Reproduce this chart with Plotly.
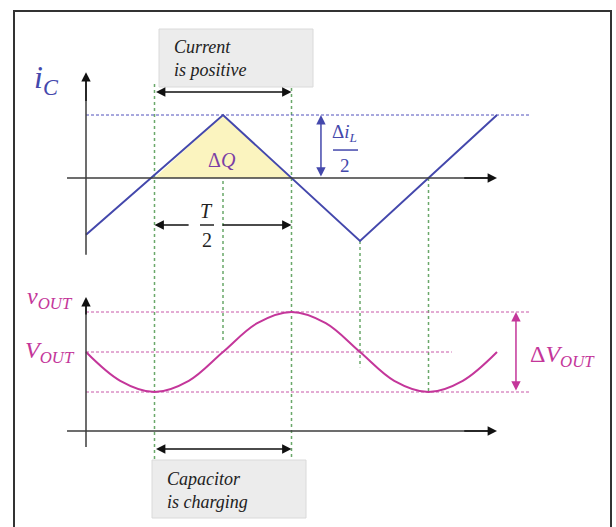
import plotly.graph_objects as go

# Capacitor current i_C (time in quarter periods T/4, current in units of Δi_L/2)
t_ic = [0, 2, 4, 6]
i_c = [-0.9, 1.0, -1.0, 1.0]

# Charge ΔQ delivered while i_C is positive
t_dq = [1, 2, 3]
i_dq = [0, 1, 0]

# Output voltage ripple about V_OUT (units of ΔV_OUT/2)
t_v = [0, 0.5, 1, 1.5, 2, 2.5, 3, 3.5, 4, 4.5, 5, 5.5, 6]
v_out = [0, -0.72, -1, -0.72, 0, 0.72, 1, 0.72, 0, -0.72, -1, -0.72, 0]

# Reference levels
i_peak = 1.0
v_levels = [1.0, 0.0, -1.0]

W, H = 616, 527
BLUE = "#4448ac"
BLUE_D = "#5050bc"
MAG = "#c4369a"
MAG_D = "#c858a8"
GREEN = "#6aa86a"
AX = "#3c3c3c"
MATH = "Liberation Serif"
TEXT = "Liberation Serif"

# axis scaling: time -> x, current -> y, voltage -> y2
X_ORG, X_SC = 86, 68.5
I_ORG, I_SC = 178, 63
V_ORG, V_SC = 352, 40


def ip(i):
    """current value -> paper fraction"""
    return 1 - (I_ORG - I_SC * i) / H


def vp(v):
    """voltage value -> paper fraction"""
    return 1 - (V_ORG - V_SC * v) / H


fig = go.Figure()

# ΔQ area
fig.add_trace(go.Scatter(x=t_dq, y=i_dq, fill="toself", fillcolor="#fbf4bf",
                         line=dict(width=0), mode="lines", hoverinfo="skip",
                         showlegend=False))

# peak current level
fig.add_trace(go.Scatter(x=[0, 6.48], y=[i_peak, i_peak], mode="lines",
                         line=dict(color=BLUE_D, width=1, dash="3px,2px"),
                         showlegend=False, hoverinfo="skip"))

# voltage reference levels
for lv, x_end in zip(v_levels, [6.48, 5.34, 6.48]):
    fig.add_trace(go.Scatter(x=[0, x_end], y=[lv, lv], mode="lines", yaxis="y2",
                             line=dict(color=MAG_D, width=1, dash="3px,2px"),
                             showlegend=False, hoverinfo="skip"))

# capacitor current
fig.add_trace(go.Scatter(x=t_ic, y=i_c, mode="lines",
                         line=dict(color=BLUE, width=2),
                         showlegend=False, hoverinfo="skip"))

# output voltage
fig.add_trace(go.Scatter(x=t_v, y=v_out, mode="lines", yaxis="y2",
                         line=dict(color=MAG, width=2, shape="spline", smoothing=1),
                         showlegend=False, hoverinfo="skip"))

shapes = []

# green guides linking the two waveforms
guides = [
    (1, 1 - 84 / H, vp(-2.7)),
    (2, ip(1.0), vp(0.25)),
    (3, 1 - 88 / H, vp(-2.65)),
    (4, ip(-1.0), vp(-0.38)),
    (5, ip(0.0), vp(-1.0)),
]
for t, y0, y1 in guides:
    shapes.append(dict(type="line", xref="x", yref="paper", x0=t, x1=t, y0=y0, y1=y1,
                       line=dict(color=GREEN, width=1.5, dash="dot"), layer="below"))

# grey label boxes
shapes.append(dict(type="rect", xref="x", yref="y", x0=1.066, x1=3.314, y0=1.444, y1=2.365,
                   fillcolor="#ececec", line=dict(color="#dadada", width=1), layer="below"))
shapes.append(dict(type="rect", xref="x", yref="y2", x0=0.964, x1=3.212, y0=-4.15, y1=-2.7,
                   fillcolor="#ececec", line=dict(color="#dadada", width=1), layer="below"))

# axis lines
shapes.append(dict(type="line", xref="x", yref="y", x0=0, x1=0, y0=-1.22, y1=1.6,
                   line=dict(color=AX, width=1.5)))
shapes.append(dict(type="line", xref="x", yref="y", x0=-0.277, x1=5.9, y0=0, y1=0,
                   line=dict(color=AX, width=1.5)))
shapes.append(dict(type="line", xref="x", yref="y2", x0=0, x1=0, y0=-2.375, y1=1.2,
                   line=dict(color=AX, width=1.5)))
shapes.append(dict(type="line", xref="x", yref="y2", x0=-0.277, x1=5.9, y0=-1.975, y1=-1.975,
                   line=dict(color=AX, width=1.5)))

# fraction bars
shapes.append(dict(type="line", xref="x", yref="y", x0=3.606, x1=3.971, y0=0.444, y1=0.444,
                   line=dict(color=BLUE, width=1.5)))
shapes.append(dict(type="line", xref="x", yref="y", x0=1.664, x1=1.869, y0=-0.746, y1=-0.746,
                   line=dict(color="#222", width=1.5)))

# outer frame
shapes.append(dict(type="rect", xref="paper", yref="paper", x0=14 / W, x1=611 / W,
                   y0=-0.05, y1=1 - 11 / H, line=dict(color="#333", width=2)))

ann = []


def arrow(x, y, ax, ay, yref="y", color="#111", both=False, width=1.5, size=1.25):
    d = dict(x=x, y=y, ax=ax, ay=ay, xref="x", yref=yref, axref="x", ayref=yref,
             text="", showarrow=True, arrowhead=2, arrowsize=size, arrowwidth=width,
             arrowcolor=color, standoff=0, startstandoff=0)
    if both:
        d.update(arrowside="end+start", startarrowhead=2, startarrowsize=size)
    return d


# axis arrowheads
ann.append(arrow(0, 1.68, 0, 1.2, "y", "#111"))
ann.append(arrow(6.0, 0, 5.5, 0, "y", "#111"))
ann.append(arrow(0, 1.375, 0, 0.9, "y2", "#111"))
ann.append(arrow(6.0, -1.975, 5.5, -1.975, "y2", "#111"))

# interval arrows
ann.append(arrow(3, 1.365, 1, 1.365, "y", "#111", both=True))
ann.append(arrow(3, -2.425, 1, -2.425, "y2", "#111", both=True))
ann.append(arrow(1, -0.746, 1.52, -0.746, "y", "#111"))
ann.append(arrow(3, -0.746, 1.97, -0.746, "y", "#111"))

# ripple arrows
ann.append(arrow(3.43, i_peak, 3.43, 0, "y", BLUE, both=True))
ann.append(arrow(6.277, 1, 6.277, -1, "y2", MAG, both=True))

UP = '<span style="font-style:normal">Δ</span>'


def label(text, x, y, yref, size, color, family=MATH, xanchor="center", style="italic"):
    return dict(text=text, x=x, y=y, xref="x", yref=yref, showarrow=False,
                xanchor=xanchor, yanchor="middle", align="left",
                font=dict(family=family, size=size, color=color, style=style))


ann += [
    label("<i>i</i><sub><i>C</i></sub>", -0.584, 1.556, "y", 32, BLUE),
    label(UP + "<i>Q</i>", 1.985, 0.286, "y", 20, "#7b3fa5"),
    label(UP + "<i>i</i><sub><i>L</i></sub>", 3.78, 0.72, "y", 19, BLUE),
    label("2", 3.78, 0.2, "y", 19, BLUE, style="normal"),
    label("<i>T</i>", 1.766, -0.53, "y", 20, "#222"),
    label("2", 1.766, -0.99, "y", 20, "#222", style="normal"),
    label("Current<br>is positive", 1.255, 1.889, "y", 18, "#222",
          family=TEXT, xanchor="left"),
    label("Capacitor<br>is charging", 1.153, -3.45, "y2", 18, "#222",
          family=TEXT, xanchor="left"),
    label("<i>v</i><sub><i>OUT</i></sub>", -0.526, 1.35, "y2", 24, MAG),
    label("<i>V</i><sub><i>OUT</i></sub>", -0.526, 0.0, "y2", 24, MAG),
    label(UP + "<i>V</i><sub><i>OUT</i></sub>", 6.95, -0.1, "y2", 24, MAG),
]

fig.update_layout(
    width=W, height=H, autosize=False,
    margin=dict(l=0, r=0, t=0, b=0),
    paper_bgcolor="white", plot_bgcolor="white",
    xaxis=dict(range=[-X_ORG / X_SC, (W - X_ORG) / X_SC], visible=False, fixedrange=True),
    yaxis=dict(range=[(I_ORG - H) / I_SC, I_ORG / I_SC], visible=False, fixedrange=True),
    yaxis2=dict(range=[(V_ORG - H) / V_SC, V_ORG / V_SC], visible=False, fixedrange=True,
                overlaying="y"),
    shapes=shapes,
    annotations=ann,
    showlegend=False,
)

fig.write_html("out.html")
